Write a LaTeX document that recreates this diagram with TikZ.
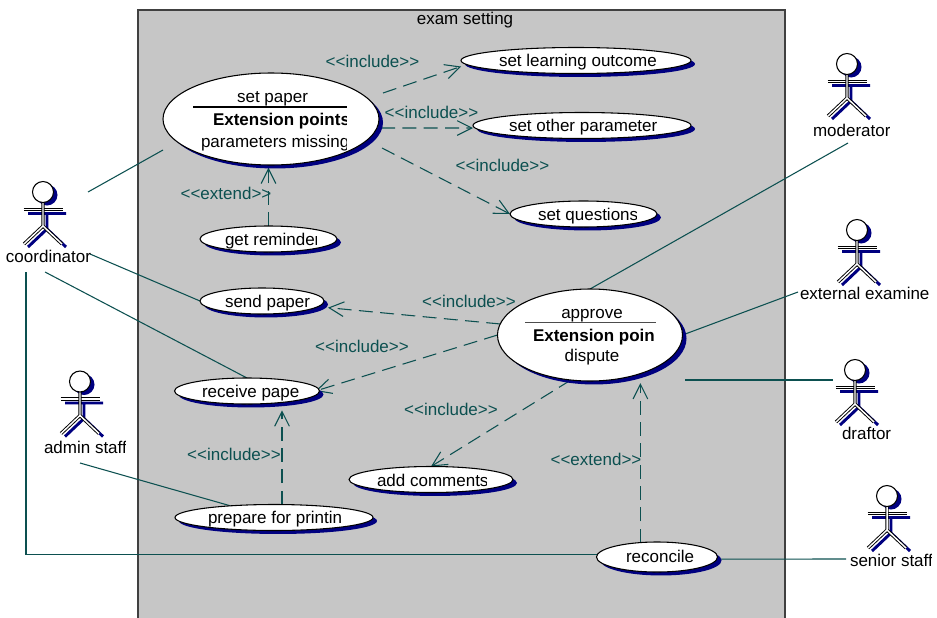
\documentclass[tikz,border=0pt]{standalone}
\usepackage{fontspec}
\setmainfont{Liberation Sans}
\newfontfamily\lbs{Liberation Sans}
\usetikzlibrary{shapes.geometric,shadows,arrows.meta,backgrounds}
\definecolor{linkc}{HTML}{0C5050}
\definecolor{framefill}{HTML}{C6C6C6}
\definecolor{shadowc}{HTML}{000080}
\def\pxu{0.75pt}
\tikzset{
  every node/.style={font=\lbs\fontsize{12.75pt}{14pt}\selectfont},
  usecase/.style={ellipse,draw=black,fill=white,line width=.8pt,inner sep=0,outer sep=0,
    general shadow={shadow xshift=3pt,shadow yshift=-2.6pt,fill=shadowc}},
  txt/.style={anchor=base west,inner sep=0,outer sep=0},
  linklabel/.style={anchor=base,inner sep=0,outer sep=0,text=linkc},
  assoc/.style={draw=linkc,line width=.8pt},
  dep/.style={draw=linkc,line width=.8pt,dash pattern=on 10.5pt off 5.5pt,
    -{Straight Barb[length=11pt,width=11pt,line width=.8pt]}},
  head/.style={circle,draw=black,fill=white,line width=.8pt,minimum size=21*\pxu,inner sep=0,outer sep=0},
  limb/.style={draw=black,line width=.7pt,double=white,double distance=1.1pt},
  limbshadow/.style={draw=shadowc,line width=2.2pt},
}
% name, centre x, centre y, width, height
\newcommand{\ucase}[5]{\node[usecase,minimum width=#4*\pxu,minimum height=#5*\pxu] (#1) at (#2,#3) {};}
% name, left x, baseline y, clip x, text
\newcommand{\cliptxt}[5]{\begin{scope}\clip (#2-2,#3-25) rectangle (#4,#3+15);
  \node[txt] (#1) at (#2,#3) {#5};\end{scope}}
% name, head x, head y
\newcommand{\actorfig}[3]{\begin{scope}[shift={(#2,#3)}]
  \fill[shadowc] (4,3) circle[radius=10.5];
  \draw[limbshadow] (-15,21.5) -- (23,21.5) (4,21) -- (4,37) (4,37) -- (-15,55) (4,37) -- (23,55);
  \draw[limb] (-19.5,17.5) -- (19.5,17.5);
  \draw[limb] (0,10) -- (0,34) -- (-19,52) (0,34) -- (19,52);
  \node[head] (#1) at (0,0) {};
\end{scope}}
\begin{document}
\begin{tikzpicture}[x=\pxu,y=-\pxu]
\useasboundingbox (0,0) rectangle (937,617);
\clip (0,0) rectangle (937,617);
% use cases
\ucase{setpaper}{271}{119}{216}{92}
\ucase{learning}{576}{60.5}{230}{26}
\ucase{other}{582}{125.5}{218}{26}
\ucase{questions}{583.5}{214}{147}{26}
\ucase{reminder}{268.5}{239}{137}{26}
\ucase{send}{262}{301}{124}{26}
\ucase{receive}{247}{391}{145}{26}
\ucase{approve}{590}{335}{185}{92}
\ucase{comments}{431}{479.5}{164}{26}
\ucase{prepare}{274}{517.5}{198}{26}
\ucase{reconcile}{657}{557}{121}{30}
% frame and connectors, behind the use cases
\coordinate (c1) at (88,192);
\coordinate (c2) at (163,150);
\coordinate (c3) at (90,254);
\coordinate (c4) at (45,272);
\coordinate (c5) at (26,272);
\coordinate (a1) at (80,463);
\coordinate (m1) at (848,143);
\coordinate (e1) at (798,292);
\coordinate (d1) at (833,380);
\coordinate (d2) at (685,380);
\coordinate (s1) at (846,559);
\coordinate (p1) at (383,93);
\coordinate (p2) at (381,128);
\coordinate (p3) at (382,148);
\begin{scope}[on background layer]
  \fill[framefill] (138,10) rectangle (785,630);
  \draw[draw=black!75,line width=1.1pt] (138,630) -- (138,10) -- (785,10) -- (785,630);
  \draw[assoc] (c1) -- (c2);
  \draw[assoc] (c3) -- (send.west);
  \draw[assoc] (c4) -- (receive.north);
  \draw[assoc] (c5) |- (reconcile.178);
  \draw[assoc] (a1) -- (prepare.165);
  \draw[assoc] (m1) -- (approve.north);
  \draw[assoc] (e1) -- (approve.east);
  \draw[assoc] (d1) -- (d2);
  \draw[assoc] (reconcile.-2) -- (s1);
  \draw[dep] (p1) -- ([yshift=-4.5pt]learning.west);
  \draw[dep] (p2) -- ([yshift=-1.9pt]other.west);
  \draw[dep] (p3) -- (questions.west);
  \draw[dep,shorten >=2pt] (reminder.north) -- (reminder.north |- setpaper.south);
  \draw[dep] (approve.173) -- ([xshift=3pt,yshift=-5pt]send.east);
  \draw[dep] (approve.west) -- ([xshift=-3pt]receive.east);
  \draw[dep] (approve.-113) -- (comments.north);
  \draw[dep,shorten >=7pt] (reconcile.139) -- (reconcile.139 |- approve.-38);
  \draw[dep,shorten >=6pt] (receive.-18 |- prepare.north) -- (receive.-18);
\end{scope}
% separators
\coordinate (sa) at (193,107); \coordinate (sb) at (347,107);
\draw[black,line width=.8pt] (sa) -- (sb);
\coordinate (sc) at (525,322.5); \coordinate (sd) at (656,322.5);
\draw[black!70,line width=.9pt] (sc) -- (sd);
% titles
\node[anchor=base,inner sep=0] (title) at (465,25) {exam setting};
% use case texts
\node[anchor=base,inner sep=0] (t1) at (272.5,102) {set paper};
\cliptxt{t2}{213}{125}{346.5}{\textbf{Extension points}}
\cliptxt{t3}{201}{147}{346.5}{parameters missing}
\node[txt] (t4) at (499,66) {set learning outcome};
\node[txt] (t5) at (509,131) {set other parameter};
\cliptxt{t6}{538}{220}{636}{set questions}
\cliptxt{t7}{225}{245}{316}{get reminder}
\cliptxt{t8}{225}{307}{322}{send paper}
\node[txt] (t9) at (202,397) {receive pape};
\node[anchor=base,inner sep=0] (t10) at (592,318) {approve};
\node[txt] (t11) at (533,341) {\textbf{Extension poin}};
\node[anchor=base,inner sep=0] (t12) at (592,361) {dispute};
\cliptxt{t13}{377}{486}{486}{add comments}
\node[txt] (t14) at (208,523) {prepare for printin};
\node[txt] (t15) at (626,562) {reconcile};
% connector labels
\node[linklabel] (l1) at (372.5,68) {\lbs <{}<include>{}>};
\node[linklabel] (l2) at (431.5,118) {\lbs <{}<include>{}>};
\node[linklabel] (l3) at (502.5,171) {\lbs <{}<include>{}>};
\node[linklabel] (l4) at (469,307) {\lbs <{}<include>{}>};
\node[linklabel] (l5) at (362,352) {\lbs <{}<include>{}>};
\node[linklabel] (l6) at (451,415) {\lbs <{}<include>{}>};
\node[linklabel] (l7) at (234,460) {\lbs <{}<include>{}>};
\node[linklabel] (l8) at (226,199) {\lbs <{}<extend>{}>};
\node[linklabel] (l9) at (596,465) {\lbs <{}<extend>{}>};
% actors
\actorfig{coordinator}{43}{192}
\actorfig{moderator}{847}{64}
\actorfig{external}{857}{230}
\actorfig{admin}{80}{381.5}
\actorfig{draftor}{855}{370}
\actorfig{senior}{887}{496}
\cliptxt{n1}{6}{262}{90}{coordinator}
\cliptxt{n2}{813}{136}{889}{moderator}
\node[txt] (n3) at (800,299) {external examine};
\cliptxt{n4}{44}{453}{125}{admin staff}
\node[txt] (n5) at (842,439) {draftor};
\cliptxt{n6}{850}{566}{931}{senior staff}
\end{tikzpicture}
\end{document}
